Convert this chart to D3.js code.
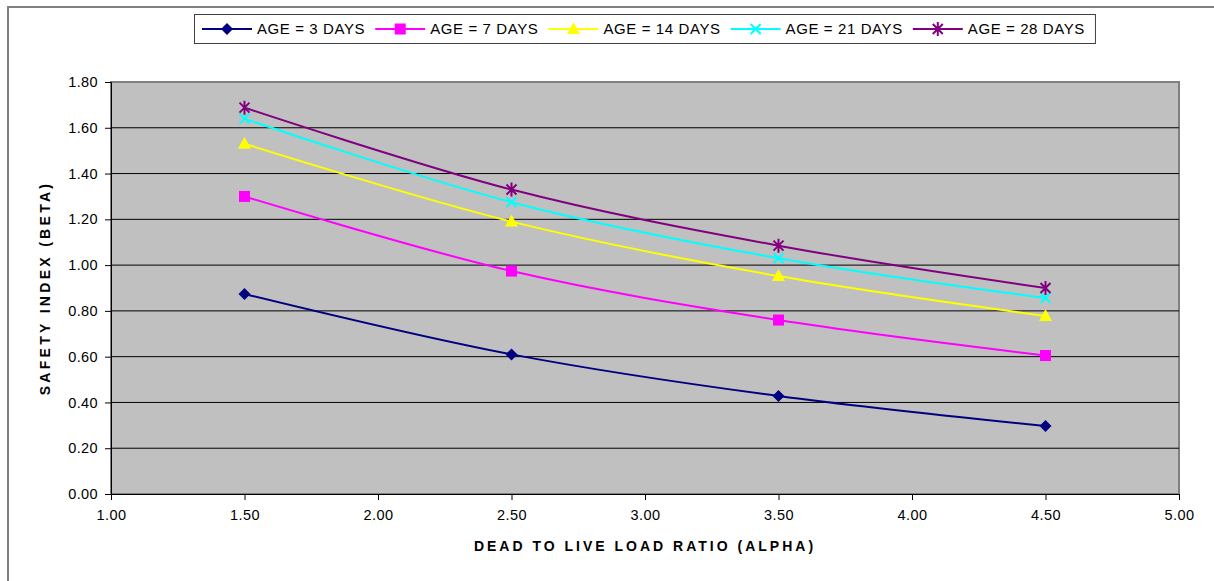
<!DOCTYPE html>
<html>
<head>
<meta charset="utf-8">
<script src="https://cdn.jsdelivr.net/npm/d3@7"></script>
<style>
  body { margin: 0; background: #fff; }
  text { font-family: "Liberation Sans", Arial, sans-serif; }
</style>
</head>
<body>
<svg></svg>
<script>
const size = {w: 1214, h: 581};
const margin = {t: 82, r: 35, b: 87, l: 111};

// data
const alphas = [1.5, 2.5, 3.5, 4.5];
const seriesNames = ['AGE = 3 DAYS', 'AGE = 7 DAYS', 'AGE = 14 DAYS', 'AGE = 21 DAYS', 'AGE = 28 DAYS'];
const age3 = [0.874, 0.61, 0.428, 0.297];
const age7 = [1.30, 0.974, 0.76, 0.605];
const age14 = [1.53, 1.19, 0.952, 0.778];
const age21 = [1.64, 1.275, 1.03, 0.856];
const age28 = [1.688, 1.33, 1.085, 0.90];
const xTicks = [1.0, 1.5, 2.0, 2.5, 3.0, 3.5, 4.0, 4.5, 5.0];
const yTicks = [0, 0.2, 0.4, 0.6, 0.8, 1.0, 1.2, 1.4, 1.6, 1.8];

const colors = ['#000080', '#ff00ff', '#ffff00', '#00ffff', '#800080'];
const markers = ['diamond', 'square', 'triangle', 'cross', 'star'];
const allSeries = [age3, age7, age14, age21, age28];

const svg = d3.select('svg').attr('width', size.w).attr('height', size.h);

// outer chart border (clipped on right/bottom)
svg.append('path')
    .attr('d', `M8,${size.h + 2} L8,7 L${size.w + 2},7`)
    .attr('fill', 'none')
    .attr('stroke', '#808080')
    .attr('stroke-width', 2);

const pw = size.w - margin.l - margin.r;
const ph = size.h - margin.t - margin.b;

const x = d3.scaleLinear().domain([1, 5]).range([margin.l, margin.l + pw]);
const y = d3.scaleLinear().domain([0, 1.8]).range([margin.t + ph, margin.t]);

const g = svg.append('g');

g.append('rect')
    .attr('x', x(1)).attr('y', y(1.8))
    .attr('width', x(5) - x(1)).attr('height', y(0) - y(1.8))
    .attr('fill', '#c0c0c0')
    .attr('stroke', '#808080')
    .attr('stroke-width', 2);

// gridlines
g.selectAll('.grid')
    .data(yTicks.filter(d => d > 0 && d < 1.8))
    .join('line')
    .attr('x1', x(1)).attr('x2', x(5))
    .attr('y1', d => y(d)).attr('y2', d => y(d))
    .attr('stroke', '#000').attr('stroke-width', 1);

// axes
const yAxis = d3.axisLeft(y).tickValues(yTicks).tickFormat(d3.format('.2f')).tickSizeOuter(0).tickSize(6).tickPadding(7);
const xAxis = d3.axisBottom(x).tickValues(xTicks).tickFormat(d3.format('.2f')).tickSizeOuter(0).tickSize(6).tickPadding(10);

g.append('g').attr('transform', `translate(${x(1)},0)`).call(yAxis)
    .call(a => a.selectAll('text').style('font-size', '14.5px').style('letter-spacing', '0.4px').attr('fill', '#000'))
    .call(a => a.select('.domain').attr('stroke', '#000'));
g.append('g').attr('transform', `translate(0,${y(0)})`).call(xAxis)
    .call(a => a.selectAll('text').style('font-size', '14.5px').style('letter-spacing', '0.4px').attr('fill', '#000'))
    .call(a => a.select('.domain').attr('stroke', '#000'));

// axis titles
svg.append('text')
    .attr('x', x(3)).attr('y', 551)
    .attr('text-anchor', 'middle')
    .style('font-size', '14px').style('font-weight', 'bold').style('letter-spacing', '3px')
    .text('DEAD TO LIVE LOAD RATIO (ALPHA)');

svg.append('text')
    .attr('transform', `translate(50,${y(0.9)}) rotate(-90)`)
    .attr('text-anchor', 'middle')
    .style('font-size', '14px').style('font-weight', 'bold').style('letter-spacing', '3.3px')
    .text('SAFETY INDEX (BETA)');

// marker drawing
function drawMarker(sel, type, color) {
    if (type === 'diamond') {
        sel.append('path').attr('d', 'M0,-6L6,0L0,6L-6,0Z').attr('fill', color);
    } else if (type === 'square') {
        sel.append('rect').attr('x', -5.5).attr('y', -5.5).attr('width', 11).attr('height', 11).attr('fill', color);
    } else if (type === 'triangle') {
        sel.append('path').attr('d', 'M0,-7L6.5,5L-6.5,5Z').attr('fill', color);
    } else if (type === 'cross') {
        sel.append('path').attr('d', 'M-5,-5L5,5M-5,5L5,-5').attr('stroke', color).attr('stroke-width', 2);
    } else if (type === 'star') {
        sel.append('path').attr('d', 'M-5,-5L5,5M-5,5L5,-5M0,-7L0,7').attr('stroke', color).attr('stroke-width', 2);
    }
}

const line = d3.line()
    .x((d, i) => x(alphas[i]))
    .y(d => y(d))
    .curve(d3.curveCatmullRom.alpha(0.5));

allSeries.forEach((vals, si) => {
    g.append('path')
        .datum(vals)
        .attr('d', line)
        .attr('fill', 'none')
        .attr('stroke', colors[si])
        .attr('stroke-width', 2);
});

allSeries.forEach((vals, si) => {
    g.selectAll('.m' + si)
        .data(vals)
        .join('g')
        .attr('transform', (d, i) => `translate(${x(alphas[i])},${y(d)})`)
        .each(function() { drawMarker(d3.select(this), markers[si], colors[si]); });
});

// legend
const legend = svg.append('g');
const legBox = legend.append('rect')
    .attr('fill', '#fff').attr('stroke', '#404040').attr('stroke-width', 1);
let lx = 202;
const ly = 29;
seriesNames.forEach((name, i) => {
    const item = legend.append('g');
    item.append('line')
        .attr('x1', lx).attr('x2', lx + 50)
        .attr('y1', ly).attr('y2', ly)
        .attr('stroke', colors[i]).attr('stroke-width', 2);
    const mk = item.append('g').attr('transform', `translate(${lx + 25},${ly})`);
    drawMarker(mk, markers[i], colors[i]);
    const t = item.append('text')
        .attr('x', lx + 55).attr('y', ly + 5)
        .style('font-size', '15px')
        .style('letter-spacing', '0.6px')
        .attr('fill', '#000')
        .text(name);
    lx += 55 + t.node().getComputedTextLength() + 10;
});
legBox.attr('x', 194.5).attr('y', 14.5).attr('width', lx - 194).attr('height', 29);
</script>
</body>
</html>
